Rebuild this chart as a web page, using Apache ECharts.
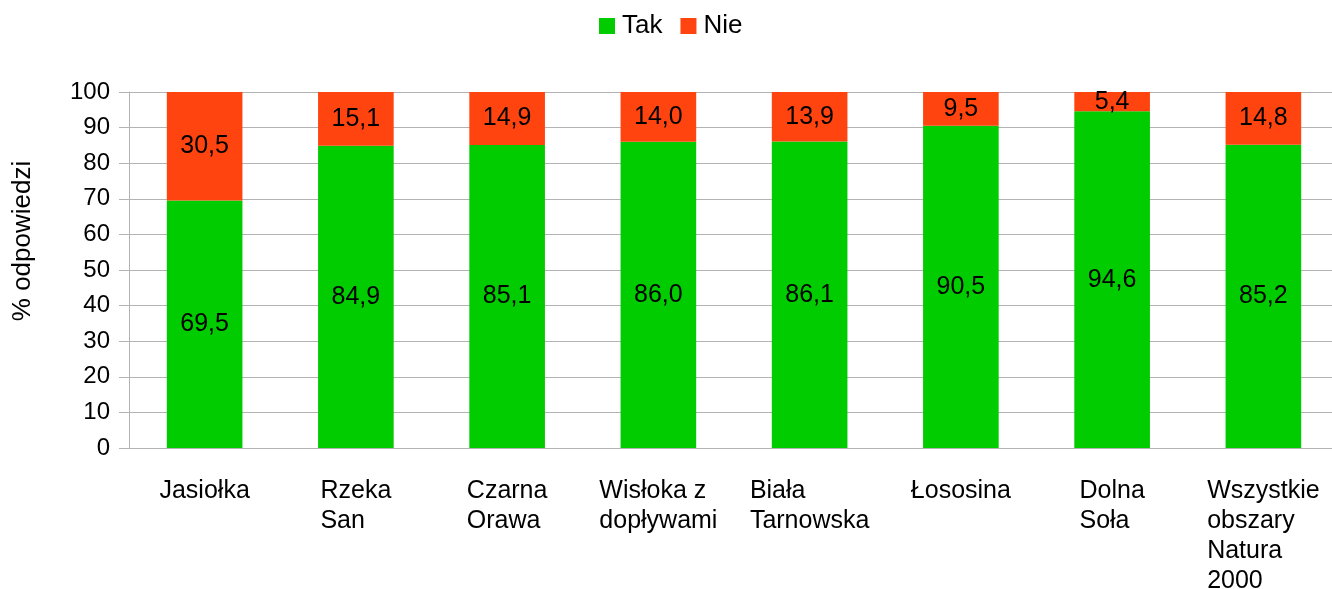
<!DOCTYPE html>
<html>
<head>
<meta charset="utf-8">
<script src="https://cdn.jsdelivr.net/npm/echarts@6/dist/echarts.min.js"></script>
<style>
  html, body { margin: 0; padding: 0; background: #fff; }
  #chart { width: 1332px; height: 589px; }
</style>
</head>
<body>
<div id="chart"></div>
<script>
  var categories = ['Jasiołka', 'Rzeka\nSan', 'Czarna\nOrawa', 'Wisłoka z\ndopływami', 'Biała\nTarnowska', 'Łososina', 'Dolna\nSoła', 'Wszystkie\nobszary\nNatura\n2000'];
  var takValues = [69.5, 84.9, 85.1, 86.0, 86.1, 90.5, 94.6, 85.2];
  var nieValues = [30.5, 15.1, 14.9, 14.0, 13.9, 9.5, 5.4, 14.8];
  var yTicks = { min: 0, max: 100, interval: 10 };

  var font = '"Liberation Sans", Arial, sans-serif';
  var gridColor = '#b3b3b3';

  function fmt(p) {
    return p.value.toFixed(1).replace('.', ',');
  }

  var chart = echarts.init(document.getElementById('chart'));
  chart.setOption({
    animation: false,
    textStyle: { fontFamily: font },
    legend: {
      top: 13,
      left: 599,
      padding: 0,
      itemWidth: 16,
      itemHeight: 16,
      itemGap: 18,
      icon: 'rect',
      textStyle: { fontSize: 26, color: '#000', fontFamily: font, padding: [0, 0, 0, 2] },
      data: ['Tak', 'Nie']
    },
    graphic: [{
      type: 'text',
      x: 10,
      y: 241,
      rotation: Math.PI / 2,
      style: {
        text: '% odpowiedzi',
        fontSize: 26,
        fontFamily: font,
        fill: '#000',
        align: 'center',
        verticalAlign: 'top'
      }
    }],
    grid: { left: 129, right: -7, top: 92, bottom: 141, outerBoundsMode: 'none' },
    xAxis: {
      type: 'category',
      data: categories,
      axisLine: { lineStyle: { color: gridColor } },
      axisTick: { length: 10, lineStyle: { color: gridColor } },
      axisLabel: {
        margin: 28,
        interval: 0,
        color: '#000',
        fontSize: 25,
        lineHeight: 30,
        formatter: function (v) {
          return v.split('\n').map(function (l) { return '{a|' + l + '}'; }).join('\n');
        },
        rich: {
          a: { align: 'left', fontSize: 25, lineHeight: 30, color: '#000', fontFamily: font }
        }
      }
    },
    yAxis: {
      type: 'value',
      min: yTicks.min,
      max: yTicks.max,
      interval: yTicks.interval,
      axisLine: { show: true, lineStyle: { color: gridColor } },
      axisTick: { show: true, length: 10, lineStyle: { color: gridColor } },
      axisLabel: { margin: 19, fontSize: 24, color: '#000' },
      splitLine: { lineStyle: { color: gridColor } }
    },
    series: [
      {
        name: 'Tak',
        type: 'bar',
        stack: 'all',
        barWidth: '50%',
        data: takValues,
        itemStyle: { color: '#00cc00' },
        label: { show: true, position: 'inside', fontSize: 25, color: '#000', formatter: fmt }
      },
      {
        name: 'Nie',
        type: 'bar',
        stack: 'all',
        barWidth: '50%',
        data: nieValues,
        itemStyle: { color: '#ff4410' },
        label: { show: true, position: 'inside', fontSize: 25, color: '#000', formatter: fmt }
      }
    ]
  });
</script>
</body>
</html>
